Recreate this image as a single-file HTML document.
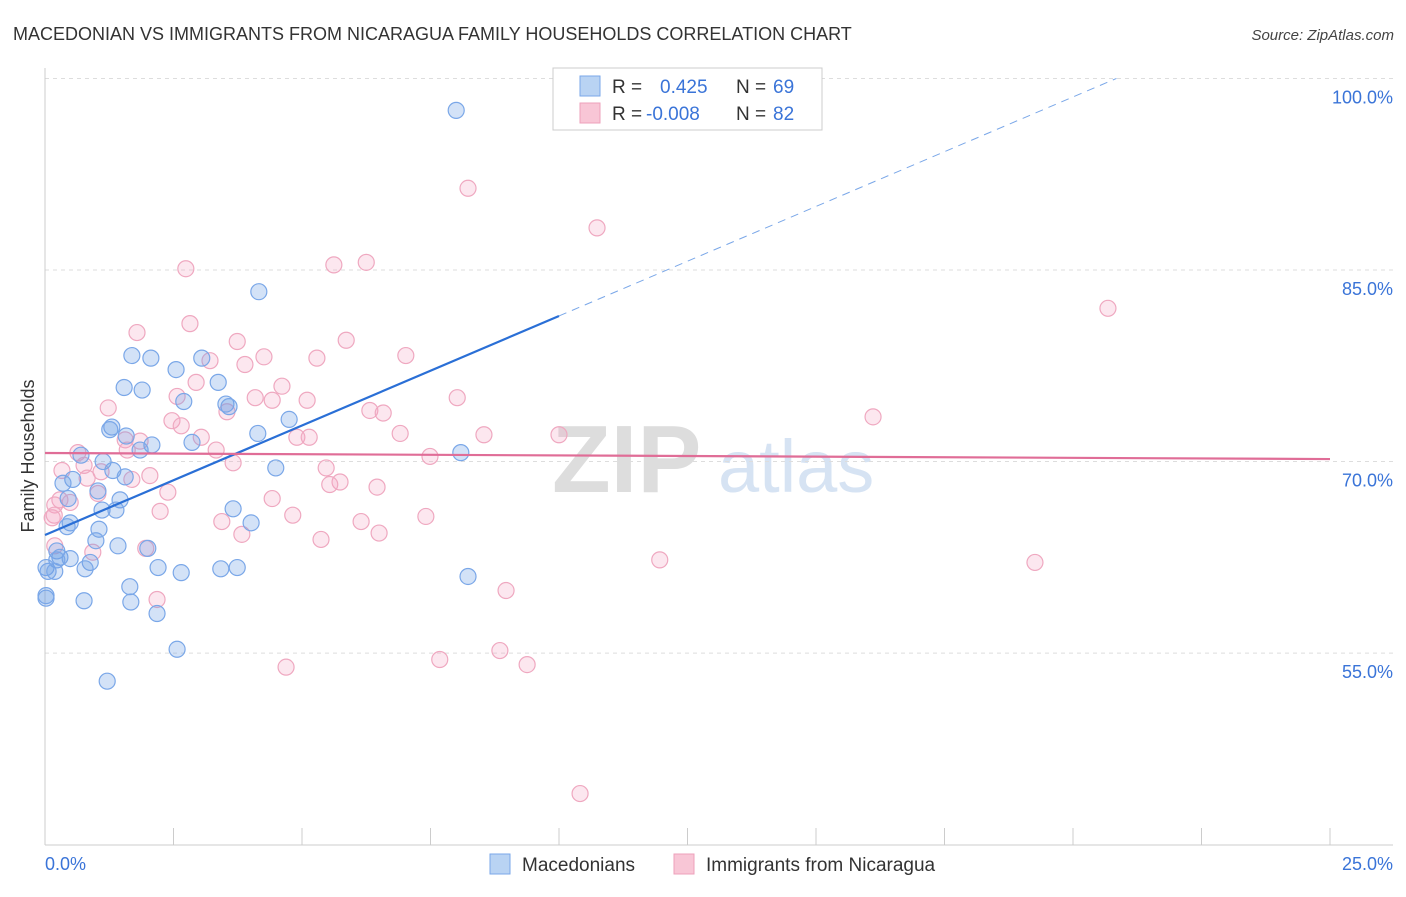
<!DOCTYPE html>
<html><head><meta charset="utf-8"><style>
body{margin:0;background:#fff;font-family:"Liberation Sans",sans-serif;}
svg text{font-family:"Liberation Sans",sans-serif;}
</style></head><body>
<svg id="chart" width="1406" height="892" xmlns="http://www.w3.org/2000/svg">
<text x="13" y="40" font-size="18" fill="#333">MACEDONIAN VS IMMIGRANTS FROM NICARAGUA FAMILY HOUSEHOLDS CORRELATION CHART</text>
<text x="1394" y="40" font-size="15" fill="#444" text-anchor="end" font-style="italic">Source: ZipAtlas.com</text>
<g><text x="552" y="492" font-size="96" fill="#ddd" font-family="Liberation Serif,serif" font-weight="bold">ZIP</text><text x="718" y="492" font-size="74" fill="#d6e3f3">atlas</text></g>
<g id="grid"></g><g id="axes"></g><g id="marks"></g>
<text transform="translate(34,456) rotate(-90)" font-size="18" fill="#333" text-anchor="middle">Family Households</text>
<g>
<rect x="553" y="68" width="269" height="62" fill="#fff" stroke="#ccc"/>
<rect x="580" y="76" width="20" height="20" fill="#b9d3f3" stroke="#7aa7e8"/>
<text x="612" y="93" font-size="19" fill="#333">R = </text><text x="660" y="93" font-size="19" fill="#3a74d8">0.425</text>
<text x="736" y="93" font-size="19" fill="#333">N = </text><text x="773" y="93" font-size="19" fill="#3a74d8">69</text>
<rect x="580" y="103" width="20" height="20" fill="#f8c6d6" stroke="#eea0bb"/>
<text x="612" y="120" font-size="19" fill="#333">R = </text><text x="646" y="120" font-size="19" fill="#3a74d8">-0.008</text>
<text x="736" y="120" font-size="19" fill="#333">N = </text><text x="773" y="120" font-size="19" fill="#3a74d8">82</text>
</g>
<g>
<rect x="490" y="854" width="20" height="20" fill="#b9d3f3" stroke="#7aa7e8"/>
<text x="522" y="871" font-size="19" fill="#333">Macedonians</text>
<rect x="674" y="854" width="20" height="20" fill="#f8c6d6" stroke="#eea0bb"/>
<text x="706" y="871" font-size="19" fill="#333">Immigrants from Nicaragua</text>
</g>
</svg>
<script>
const yTicks=[55,70,85,100];
const yTickLabels=["55.0%","70.0%","85.0%","100.0%"];
const xTickLabels=["0.0%","25.0%"];
const blueX=[8.0,4.16,1.69,2.06,3.05,2.55,3.37,1.54,1.89,2.70,3.52,3.58,4.75,1.30,1.26,1.58,4.14,2.08,1.85,2.86,8.09,0.70,1.13,1.32,4.49,1.56,0.54,0.35,1.03,0.45,1.46,1.11,1.38,3.66,0.49,0.43,4.01,1.05,0.99,1.42,0.23,0.29,0.49,2.00,0.23,0.88,0.02,0.06,0.78,2.20,2.65,3.42,3.74,0.19,1.65,8.23,0.76,1.67,0.02,2.18,2.57,1.21,0.02];
const blueY=[97.5,83.3,78.3,78.1,78.1,77.2,76.2,75.8,75.6,74.7,74.5,74.3,73.3,72.7,72.5,72.0,72.2,71.3,70.9,71.5,70.7,70.5,70.0,69.3,69.5,68.8,68.6,68.3,67.7,67.1,67.0,66.2,66.2,66.3,65.2,64.9,65.2,64.7,63.8,63.4,63.0,62.5,62.4,63.2,62.3,62.1,61.7,61.4,61.6,61.7,61.3,61.6,61.7,61.4,60.2,61.0,59.1,59.0,59.3,58.1,55.3,52.8,59.5];
const pinkX=[8.23,10.74,2.74,5.62,6.25,20.68,2.82,1.79,5.86,3.74,4.26,7.02,5.29,3.21,3.89,2.94,4.61,2.57,4.09,5.10,4.42,8.02,1.23,6.32,6.58,3.54,2.47,2.65,16.11,6.91,8.54,10.0,4.90,5.14,3.04,1.56,1.85,0.64,3.33,1.60,7.49,3.66,0.76,5.47,0.33,1.09,1.69,2.04,0.82,5.74,5.54,6.46,1.03,2.39,4.42,0.29,0.49,0.19,0.18,2.24,4.82,7.41,3.44,6.15,3.83,6.50,5.37,0.19,1.96,0.93,11.96,19.26,8.97,2.18,4.69,7.68,8.85,9.38,10.41,0.14];
const pinkY=[91.4,88.3,85.1,85.4,85.6,82.0,80.8,80.1,79.5,79.4,78.2,78.3,78.1,77.9,77.6,76.2,75.9,75.1,75.0,74.8,74.8,75.0,74.2,74.0,73.8,73.9,73.2,72.8,73.5,72.2,72.1,72.1,71.9,71.9,71.9,71.7,71.6,70.7,70.9,70.9,70.4,69.9,69.7,69.5,69.3,69.2,68.6,68.9,68.7,68.4,68.2,68.0,67.5,67.6,67.1,67.0,66.8,66.6,65.8,66.1,65.8,65.7,65.3,65.3,64.3,64.4,63.9,63.4,63.2,62.9,62.3,62.1,59.9,59.2,53.9,54.5,55.2,54.1,44.0,65.6];
const blueTrend=[64.25,1.715]; // intercept, slope per %
const pinkTrend=[70.67,-0.019];
const NS="http://www.w3.org/2000/svg";
const X=v=>45+v*51.4, Y=v=>270-(v-85)*12.77;
function mk(p,t,a){const e=document.createElementNS(NS,t);for(const k in a)e.setAttribute(k,a[k]);document.getElementById(p).appendChild(e);return e;}
yTicks.forEach((v,i)=>{
 const g=mk('grid','line',{x1:45,x2:1393,y1:Y(v),y2:Y(v),stroke:'#ddd','stroke-dasharray':'4,4'});
 
 
 const t=mk('axes','text',{x:1393,y:Y(v)+25,'font-size':18,fill:'#3a74d8','text-anchor':'end'});t.textContent=yTickLabels[i];
 
 
});
const ax=mk('axes','line',{x1:45,x2:1393,y1:845,y2:845,stroke:'#ccc'});


const ay=mk('axes','line',{x1:45,x2:45,y1:68,y2:845,stroke:'#ccc'});


for(let i=0;i<=10;i++){const tk=mk('axes','line',{x1:X(i*2.5),x2:X(i*2.5),y1:828,y2:845,stroke:'#ccc'});
 
 }
[[0,'start',45],[25,'end',1393]].forEach((d,i)=>{const t=mk('axes','text',{x:d[2],y:870,'font-size':18,fill:'#3a74d8','text-anchor':d[1]});t.textContent=xTickLabels[i];
 
 });
pinkX.forEach((x,i)=>{const c=mk('marks','circle',{cx:X(x),cy:Y(pinkY[i]),r:8,fill:'rgba(245,160,190,0.25)',stroke:'#efa8c0','stroke-width':1.2});
 
 });
blueX.forEach((x,i)=>{const c=mk('marks','circle',{cx:X(x),cy:Y(blueY[i]),r:8,fill:'rgba(110,160,230,0.3)',stroke:'#7aa7e8','stroke-width':1.2});
 
 });
const bEnd=(100-blueTrend[0])/blueTrend[1];
const b1=mk('marks','line',{x1:X(0),y1:Y(blueTrend[0]),x2:X(10),y2:Y(blueTrend[0]+10*blueTrend[1]),stroke:'#2a6fd6','stroke-width':2.2});


const b2=mk('marks','line',{x1:X(10),y1:Y(blueTrend[0]+10*blueTrend[1]),x2:X(bEnd),y2:Y(100),stroke:'#7aa7e8','stroke-width':1,'stroke-dasharray':'8,6'});


const p1=mk('marks','line',{x1:X(0),y1:Y(pinkTrend[0]),x2:X(25),y2:Y(pinkTrend[0]+25*pinkTrend[1]),stroke:'#e06d97','stroke-width':2.2});


</script>
</body></html>
